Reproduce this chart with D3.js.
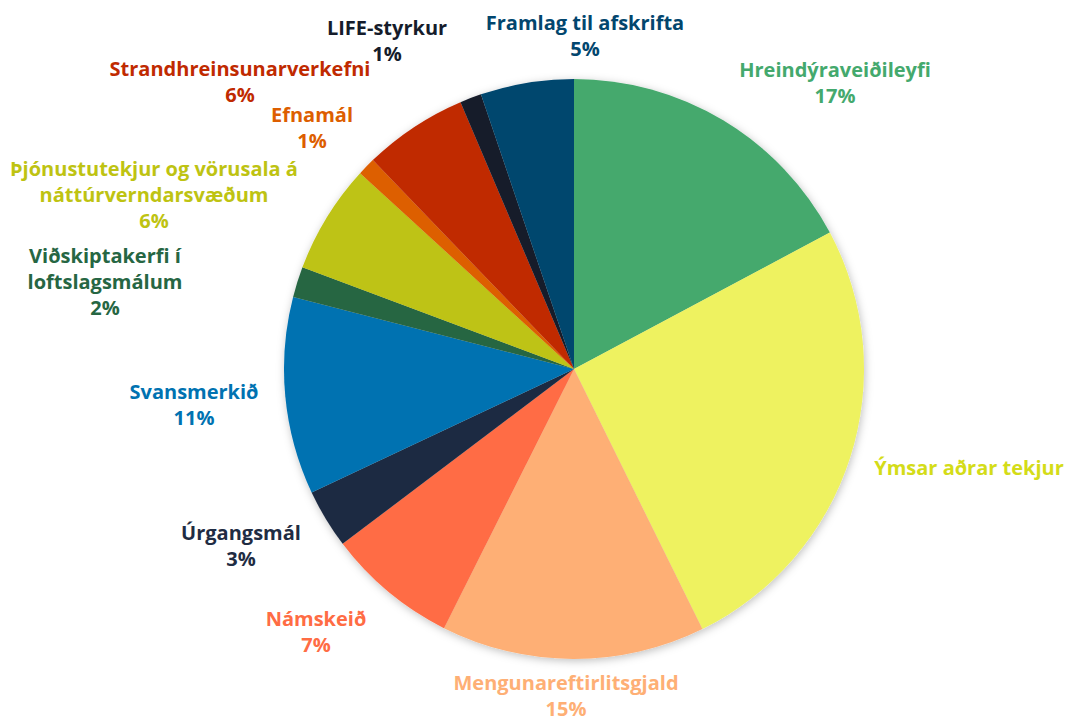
<!DOCTYPE html>
<html lang="is">
<head>
    <meta charset="UTF-8">
    <title>Tekjur</title>
    <script src="https://cdn.jsdelivr.net/npm/d3@7"></script>
    <style>
        body { margin: 0; background: #fff; }
    </style>
</head>
<body>
<script>
    // gögn
    const categories = [
        'Hreindýraveiðileyfi', 'Ýmsar aðrar tekjur', 'Mengunareftirlitsgjald', 'Námskeið',
        'Úrgangsmál', 'Svansmerkið', 'Viðskiptakerfi í loftslagsmálum',
        'Þjónustutekjur og vörusala á náttúrverndarsvæðum', 'Efnamál',
        'Strandhreinsunarverkefni', 'LIFE-styrkur', 'Framlag til afskrifta'
    ];
    const values = [17.2, 25.5, 14.7, 7.3, 3.3, 11.0, 1.7, 6.1, 1.0, 5.8, 1.2, 5.2];
    const showPercent = [true, false, true, true, true, true, true, true, true, true, true, true];

    // útlit
    const labelLines = [
        ['Hreindýraveiðileyfi'], ['Ýmsar aðrar tekjur'], ['Mengunareftirlitsgjald'], ['Námskeið'],
        ['Úrgangsmál'], ['Svansmerkið'], ['Viðskiptakerfi í', 'loftslagsmálum'],
        ['Þjónustutekjur og vörusala á', 'náttúrverndarsvæðum'], ['Efnamál'],
        ['Strandhreinsunarverkefni'], ['LIFE-styrkur'], ['Framlag til afskrifta']
    ];
    // miðja merkis miðað við miðju kökunnar
    const labelOffset = [
        [261, -300], [395, 98], [-8, 313], [-258, 249], [-333, 163], [-380, 22],
        [-469, -114], [-420, -201], [-262, -255], [-334, -301], [-187, -342], [11, -347]
    ];
    const sliceColors = ['#44a96d', '#eef261', '#feaf75', '#ff6c44', '#1f2c43', '#0072b1',
        '#266643', '#bec312', '#dd5e00', '#c02a00', '#151c2b', '#02466e'];
    const textColors = ['#44a96d', '#d4dc18', '#feaf75', '#ff6c44', '#1f2c43', '#0072b1',
        '#266643', '#bec312', '#dd5e00', '#c02a00', '#151c2b', '#02466e'];

    const width = 1071, height = 722;
    const cx = 574, cy = 369, radius = 290;
    const lineH = 26;

    const data = categories.map((c, i) => ({name: c, value: values[i], i: i}));
    const total = d3.sum(values);
    const fmt = d3.format('.0%');

    const svg = d3.select('body').append('svg')
        .attr('width', width)
        .attr('height', height)
        .style('font', '700 20px "Open Sans", sans-serif');

    const defs = svg.append('defs');
    defs.append('filter')
        .attr('id', 'skuggi')
        .attr('x', '-20%').attr('y', '-20%').attr('width', '140%').attr('height', '140%')
        .append('feDropShadow')
        .attr('dx', 1).attr('dy', 2)
        .attr('stdDeviation', 4)
        .attr('flood-color', '#000')
        .attr('flood-opacity', 0.25);

    const pie = d3.pie().sort(null).value(d => d.value);
    const arc = d3.arc().innerRadius(0).outerRadius(radius);

    const g = svg.append('g')
        .attr('transform', `translate(${cx},${cy})`);

    g.append('g')
        .attr('filter', 'url(#skuggi)')
        .selectAll('path')
        .data(pie(data))
        .enter().append('path')
        .attr('d', arc)
        .attr('fill', d => sliceColors[d.data.i]);

    const label = g.selectAll('text.merki')
        .data(data)
        .enter().append('text')
        .attr('class', 'merki')
        .attr('text-anchor', 'middle')
        .attr('dominant-baseline', 'central')
        .attr('fill', d => textColors[d.i])
        .attr('transform', d => `translate(${labelOffset[d.i][0]},${labelOffset[d.i][1]})`);

    label.selectAll('tspan')
        .data(d => showPercent[d.i] ? labelLines[d.i].concat([fmt(d.value / total)]) : labelLines[d.i])
        .enter().append('tspan')
        .attr('x', 0)
        .attr('y', (d, i) => i * lineH)
        .text(d => d);
</script>
</body>
</html>
